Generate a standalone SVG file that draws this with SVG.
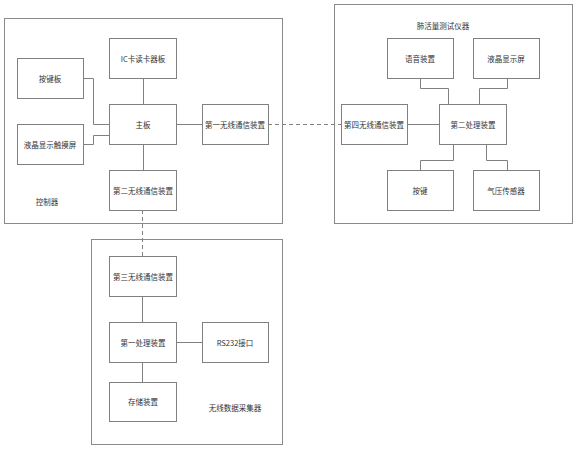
<svg xmlns="http://www.w3.org/2000/svg" width="577" height="450" viewBox="0 0 577 450">
<style>
.frame{fill:none;stroke:#8a8a8a;stroke-width:1}
.box{fill:#fff;stroke:#808080;stroke-width:1}
.ln{fill:none;stroke:#808080;stroke-width:1}
.dash{fill:none;stroke:#808080;stroke-width:1;stroke-dasharray:4,3}
text{font-family:"Noto Sans CJK SC","Liberation Serif",serif;font-size:7.5px;fill:#333;text-anchor:middle;dominant-baseline:central}
</style>
<rect width="577" height="450" fill="#fff"/>
<g id="controller">
<rect class="frame" x="4.5" y="18.5" width="278" height="205"/>
<text x="47" y="201">控制器</text>
</g>
<g id="lung-tester">
<rect class="frame" x="334.5" y="4.5" width="238" height="219"/>
<text x="443" y="25">肺活量测试仪器</text>
</g>
<g id="collector">
<rect class="frame" x="91.5" y="239.5" width="191" height="205"/>
<text x="235" y="407">无线数据采集器</text>
</g>
<g id="connectors">
<polyline class="ln" points="83,78.5 93.5,78.5 93.5,124.5 109,124.5"/>
<polyline class="ln" points="83,144.5 93.5,144.5 93.5,135.5 109,135.5"/>
<line class="ln" x1="143.5" y1="78" x2="143.5" y2="104"/>
<line class="ln" x1="143.5" y1="144" x2="143.5" y2="170"/>
<line class="ln" x1="176" y1="124.5" x2="202" y2="124.5"/>
<line class="dash" x1="268" y1="124.5" x2="341" y2="124.5"/>
<line class="dash" x1="142.5" y1="210" x2="142.5" y2="256"/>
<line class="ln" x1="407" y1="124.5" x2="439" y2="124.5"/>
<polyline class="ln" points="420.5,78 420.5,88.5 448.5,88.5 448.5,104"/>
<polyline class="ln" points="507.5,78 507.5,88.5 479.5,88.5 479.5,104"/>
<polyline class="ln" points="453.5,144 453.5,160.5 420.5,160.5 420.5,170"/>
<polyline class="ln" points="486.5,144 486.5,160.5 507.5,160.5 507.5,170"/>
<line class="ln" x1="142.5" y1="296" x2="142.5" y2="322"/>
<line class="ln" x1="142.5" y1="362" x2="142.5" y2="382"/>
<line class="ln" x1="176" y1="342.5" x2="202" y2="342.5"/>
</g>
<g id="ic-reader"><rect class="box" x="109.5" y="38.5" width="67" height="40"/><text x="143" y="58">IC卡读卡器板</text></g>
<g id="keypad-board"><rect class="box" x="17.5" y="58.5" width="66" height="40"/><text x="50" y="78">按键板</text></g>
<g id="mainboard"><rect class="box" x="109.5" y="104.5" width="67" height="40"/><text x="143" y="124">主板</text></g>
<g id="lcd-touch"><rect class="box" x="17.5" y="124.5" width="66" height="40"/><text x="50" y="144">液晶显示触摸屏</text></g>
<g id="wireless1"><rect class="box" x="202.5" y="104.5" width="66" height="40"/><text x="235" y="124">第一无线通信装置</text></g>
<g id="wireless2"><rect class="box" x="109.5" y="170.5" width="67" height="40"/><text x="143" y="190">第二无线通信装置</text></g>
<g id="voice"><rect class="box" x="387.5" y="38.5" width="66" height="40"/><text x="420" y="58">语音装置</text></g>
<g id="lcd"><rect class="box" x="473.5" y="38.5" width="66" height="40"/><text x="506" y="58">液晶显示屏</text></g>
<g id="wireless4"><rect class="box" x="341.5" y="104.5" width="66" height="40"/><text x="374" y="124">第四无线通信装置</text></g>
<g id="proc2"><rect class="box" x="439.5" y="104.5" width="67" height="40"/><text x="473" y="124">第二处理装置</text></g>
<g id="keys"><rect class="box" x="387.5" y="170.5" width="66" height="40"/><text x="420" y="190">按键</text></g>
<g id="pressure"><rect class="box" x="473.5" y="170.5" width="66" height="40"/><text x="506" y="190">气压传感器</text></g>
<g id="wireless3"><rect class="box" x="109.5" y="256.5" width="67" height="40"/><text x="143" y="276">第三无线通信装置</text></g>
<g id="proc1"><rect class="box" x="109.5" y="322.5" width="67" height="40"/><text x="143" y="342">第一处理装置</text></g>
<g id="rs232"><rect class="box" x="202.5" y="322.5" width="66" height="40"/><text x="235" y="342">RS232接口</text></g>
<g id="storage"><rect class="box" x="109.5" y="382.5" width="67" height="39"/><text x="143" y="401">存储装置</text></g>
</svg>
